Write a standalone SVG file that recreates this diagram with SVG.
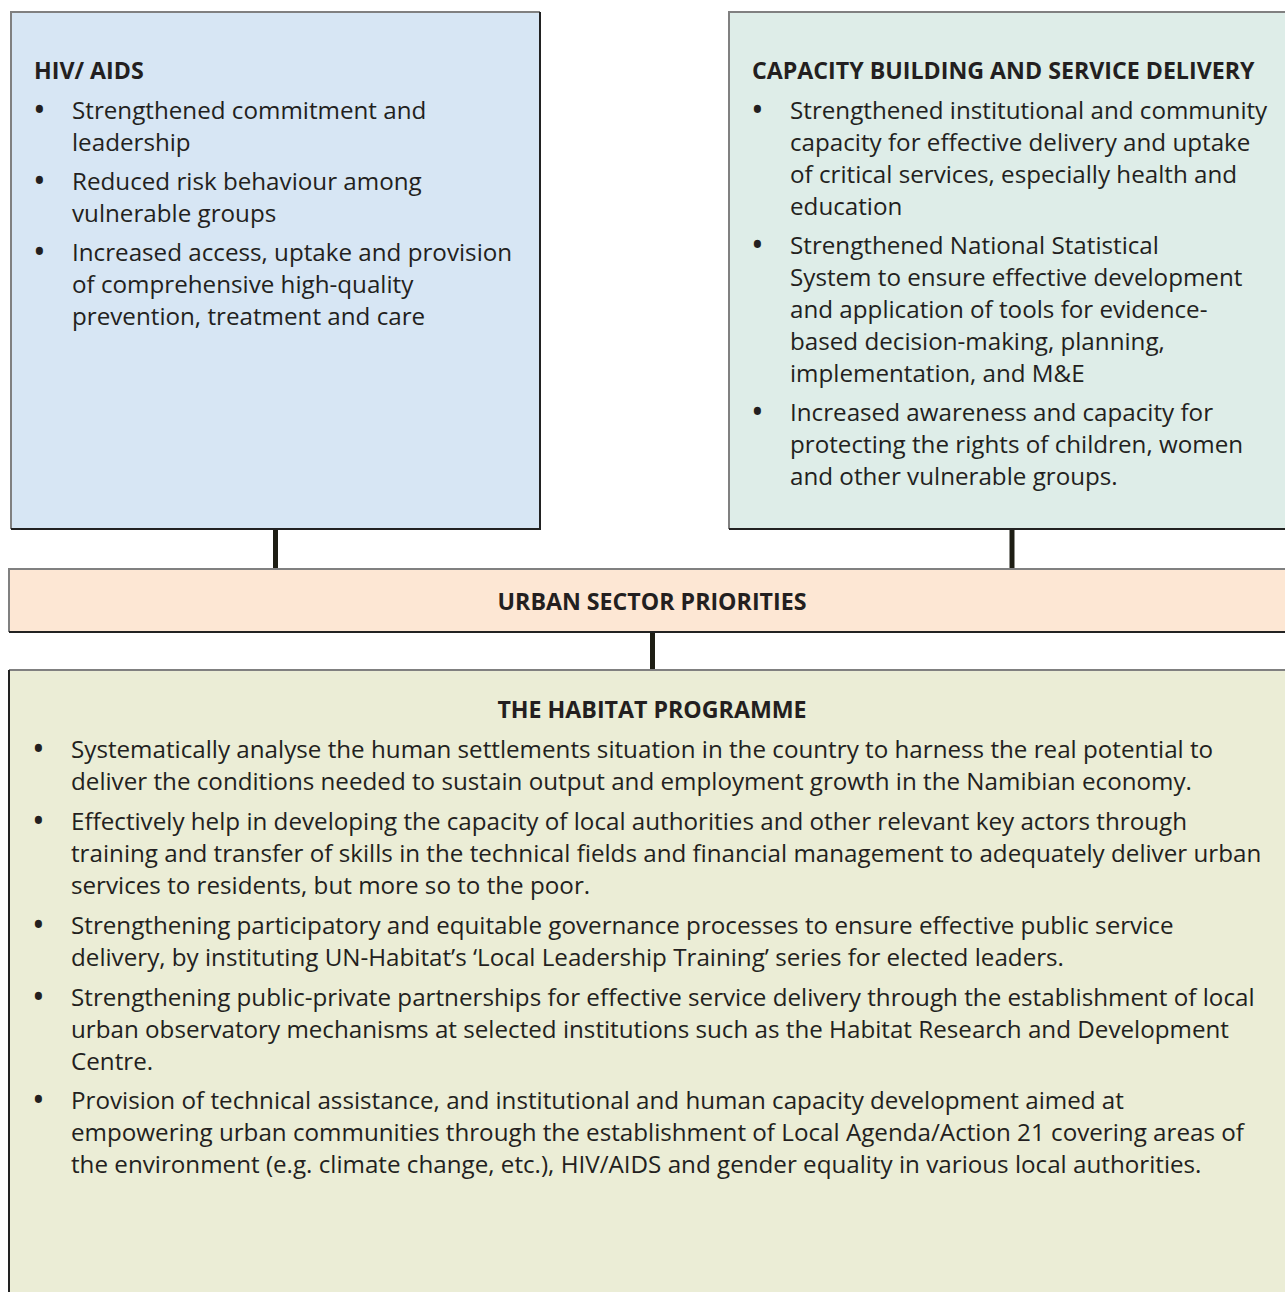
<svg xmlns="http://www.w3.org/2000/svg" width="1285" height="1292" viewBox="0 0 1285 1292">
<style>
  text { font-family: "Open Sans", "Noto Sans", "Liberation Sans", sans-serif; fill: #231f20; }
  .b { font-size: 24.2px; }
  .bl { font-size: 34px; }
  .h { font-size: 23.2px; font-weight: bold; }
  .edge-lt { stroke: #808080; stroke-width: 2; fill: none; }
  .edge-rb { stroke: #222222; stroke-width: 2; fill: none; }
  .conn { stroke: #1e1e14; stroke-width: 5; }
</style>

<!-- connectors -->
<g id="connectors">
  <line class="conn" x1="275.5" y1="529" x2="275.5" y2="569"/>
  <line class="conn" x1="1012" y1="529" x2="1012" y2="569"/>
  <line class="conn" x1="652.5" y1="632" x2="652.5" y2="670"/>
</g>

<!-- HIV/AIDS box -->
<g id="hiv-aids">
  <rect x="11" y="12" width="529" height="517" fill="#d7e6f4"/>
  <path class="edge-lt" d="M11 529 V12 H540"/>
  <path class="edge-rb" d="M540 12 V529 H11"/>
  <text class="h" x="34" y="79">HIV/ AIDS</text>
  <g class="bl">
    <text x="33" y="122">•</text>
    <text x="33" y="193">•</text>
    <text x="33" y="264">•</text>
  </g>
  <g class="b">
    <text x="72" y="119">Strengthened commitment and</text>
    <text x="72" y="151">leadership</text>
    <text x="72" y="190">Reduced risk behaviour among</text>
    <text x="72" y="222">vulnerable groups</text>
    <text x="72" y="261">Increased access, uptake and provision</text>
    <text x="72" y="293">of comprehensive high-quality</text>
    <text x="72" y="325">prevention, treatment and care</text>
  </g>
</g>

<!-- Capacity building box -->
<g id="capacity-building">
  <rect x="729" y="12" width="560" height="517" fill="#deede8"/>
  <path class="edge-lt" d="M729 529 V12 H1290"/>
  <path class="edge-rb" d="M1290 529 H729"/>
  <text class="h" x="752" y="79">CAPACITY BUILDING AND SERVICE DELIVERY</text>
  <g class="bl">
    <text x="751" y="122">•</text>
    <text x="751" y="257">•</text>
    <text x="751" y="424">•</text>
  </g>
  <g class="b">
    <text x="790" y="119">Strengthened institutional and community</text>
    <text x="790" y="151">capacity for effective delivery and uptake</text>
    <text x="790" y="183">of critical services, especially health and</text>
    <text x="790" y="215">education</text>
    <text x="790" y="254">Strengthened National Statistical</text>
    <text x="790" y="286">System to ensure effective development</text>
    <text x="790" y="318">and application of tools for evidence-</text>
    <text x="790" y="350">based decision-making, planning,</text>
    <text x="790" y="382">implementation, and M&amp;E</text>
    <text x="790" y="421">Increased awareness and capacity for</text>
    <text x="790" y="453">protecting the rights of children, women</text>
    <text x="790" y="485">and other vulnerable groups.</text>
  </g>
</g>

<!-- Urban sector priorities bar -->
<g id="urban-sector-priorities">
  <rect x="9" y="569" width="1280" height="63" fill="#fde7d4"/>
  <path class="edge-lt" d="M9 632 V569 H1290"/>
  <path class="edge-rb" d="M1290 632 H9"/>
  <text class="h" x="652" y="610" text-anchor="middle">URBAN SECTOR PRIORITIES</text>
</g>

<!-- Habitat programme box -->
<g id="habitat-programme">
  <rect x="9" y="670" width="1280" height="630" fill="#ebedd6"/>
  <path class="edge-lt" d="M1290 670 H9"/>
  <path class="edge-rb" d="M9 670 V1300"/>
  <text class="h" x="652" y="718" text-anchor="middle">THE HABITAT PROGRAMME</text>
  <g class="bl">
    <text x="32" y="761">•</text>
    <text x="32" y="833">•</text>
    <text x="32" y="937">•</text>
    <text x="32" y="1009">•</text>
    <text x="32" y="1112">•</text>
  </g>
  <g class="b">
    <text x="71" y="758">Systematically analyse the human settlements situation in the country to harness the real potential to</text>
    <text x="71" y="790">deliver the conditions needed to sustain output and employment growth in the Namibian economy.</text>
    <text x="71" y="830">Effectively help in developing the capacity of local authorities and other relevant key actors through</text>
    <text x="71" y="862">training and transfer of skills in the technical fields and financial management to adequately deliver urban</text>
    <text x="71" y="894">services to residents, but more so to the poor.</text>
    <text x="71" y="934">Strengthening participatory and equitable governance processes to ensure effective public service</text>
    <text x="71" y="966">delivery, by instituting UN-Habitat’s ‘Local Leadership Training’ series for elected leaders.</text>
    <text x="71" y="1006">Strengthening public-private partnerships for effective service delivery through the establishment of local</text>
    <text x="71" y="1038">urban observatory mechanisms at selected institutions such as the Habitat Research and Development</text>
    <text x="71" y="1070">Centre.</text>
    <text x="71" y="1109">Provision of technical assistance, and institutional and human capacity development aimed at</text>
    <text x="71" y="1141">empowering urban communities through the establishment of Local Agenda/Action 21 covering areas of</text>
    <text x="71" y="1173">the environment (e.g. climate change, etc.), HIV/AIDS and gender equality in various local authorities.</text>
  </g>
</g>
</svg>
